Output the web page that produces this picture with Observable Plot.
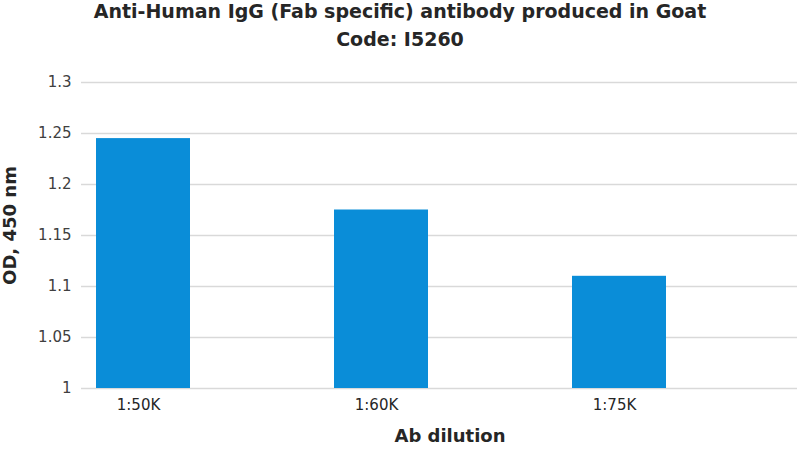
<!DOCTYPE html>
<html>
<head>
<meta charset="utf-8">
<script src="https://cdn.jsdelivr.net/npm/d3@7"></script>
<script src="https://cdn.jsdelivr.net/npm/@observablehq/plot@0.6"></script>
<style>
  body { margin: 0; background: #fff; }
  #wrap { position: relative; width: 800px; height: 449px; overflow: hidden; }
  #title { position: absolute; left: 0; top: -3px; width: 800px; text-align: center;
    font-family: "DejaVu Sans", sans-serif; font-weight: bold; font-size: 19px;
    line-height: 28px; color: #262626; }
  #chart { position: absolute; left: 0; top: 0; }
</style>
</head>
<body>
<div id="wrap">
  <div id="chart"></div>
  <div id="title">Anti-Human IgG (Fab specific) antibody produced in Goat<br>Code: I5260</div>
</div>
<script>
const categories = ["1:50K", "1:60K", "1:75K"];
const values = [1.245, 1.175, 1.11];
const yTicks = [1, 1.05, 1.1, 1.15, 1.2, 1.25, 1.3];
const xLabel = "Ab dilution";
const yLabel = "OD, 450 nm";

const data = categories.map((c, i) => ({ dilution: c, od: values[i] }));

const chart = Plot.plot({
  width: 800,
  height: 449,
  marginTop: 82,
  marginBottom: 61,
  marginLeft: 81,
  marginRight: 3,
  style: { fontFamily: "DejaVu Sans, sans-serif", fontSize: "15px", color: "#404040", background: "#fff" },
  x: { domain: categories, range: [95.7, 667.3], paddingInner: 0.605, paddingOuter: 0, label: null },
  y: { domain: [1, 1.3], label: null },
  marks: [
    Plot.gridY(yTicks, { stroke: "#d9d9d9", strokeOpacity: 1, strokeWidth: 1.3 }),
    Plot.barY(data, { x: "dilution", y1: 1, y2: "od", fill: "#0a8dd8" }),
    Plot.axisY(yTicks, { tickSize: 0, tickPadding: 10, tickFormat: d => String(+d.toFixed(2)), fill: "#404040" }),
    Plot.axisX({ tickSize: 0, tickPadding: 11, dx: -5, fill: "#262626" }),
    Plot.text([yLabel], { text: d => d, frameAnchor: "left", textAnchor: "middle", rotate: -90, dx: -71.5, dy: -10, fontWeight: "bold", fontSize: 18, fill: "#262626" }),
    Plot.text([xLabel], { text: d => d, frameAnchor: "bottom", dx: 10.5, dy: 53, fontWeight: "bold", fontSize: 18, fill: "#262626" })
  ]
});
document.getElementById("chart").appendChild(chart);
</script>
</body>
</html>
